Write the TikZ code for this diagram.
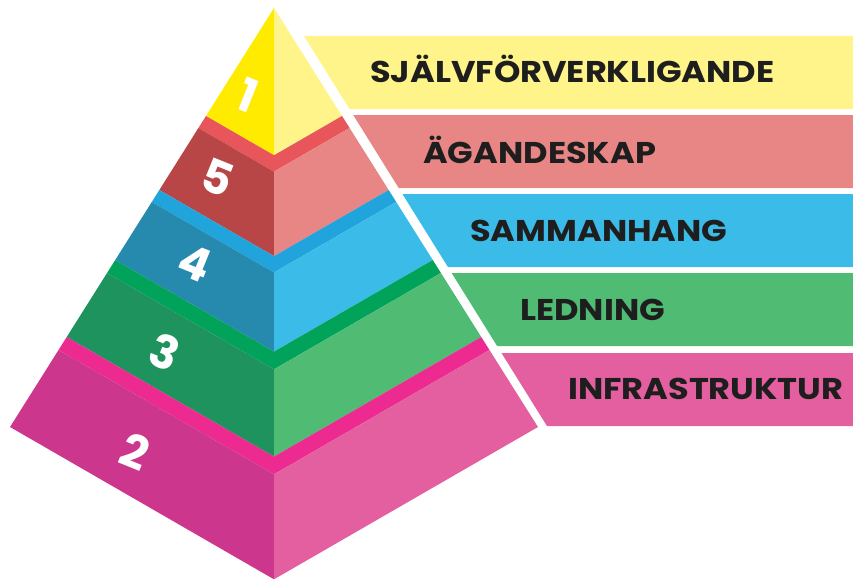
\documentclass[tikz,border=0pt]{standalone}
\usepackage{fontspec}
\setmainfont{Poppins}
% face colours: band / left / right
\definecolor{yelL}{HTML}{FFEB00}
\definecolor{yelR}{HTML}{FFF48A}
\definecolor{redB}{HTML}{E8555A}
\definecolor{redL}{HTML}{B94646}
\definecolor{redR}{HTML}{E88686}
\definecolor{bluB}{HTML}{21A3DC}
\definecolor{bluL}{HTML}{258AAD}
\definecolor{bluR}{HTML}{3BBCE8}
\definecolor{grnB}{HTML}{00A359}
\definecolor{grnL}{HTML}{1F935E}
\definecolor{grnR}{HTML}{4FBB73}
\definecolor{pnkB}{HTML}{EC2A90}
\definecolor{pnkL}{HTML}{CC368D}
\definecolor{pnkR}{HTML}{E35F9F}
\definecolor{ink}{HTML}{1E1E1E}
\tikzset{
    digit/.style={white, inner sep=0pt, rotate=-22,
        font=\fontsize{46}{46}\selectfont\bfseries},
    labeltext/.style={ink, inner sep=0pt, anchor=base west, xscale=1.12,
        font=\fontsize{30}{30}\selectfont\bfseries}
}
\begin{document}
\begin{tikzpicture}[x=1pt,y=-1pt]
    \def\cx{274}      % front ridge
    \def\ty{8}        % apex height
    \def\slope{0.63}  % half width per unit of height
    \def\dep{0.577}   % depth of the front corner per half width
    \useasboundingbox (0,0) rectangle (853,578);
    % labels behind the pyramid
    \foreach \yt/\yb/\col in {36/109/yelR,115/188/redR,194/267/bluR,273/346/grnR,353/426/pnkR}{%
        \fill[\col] ({304+0.623*(\yt-36)},\yt) -- (853,\yt) -- (853,\yb)
            -- ({304+0.623*(\yb-36)},\yb) -- cycle;
    }
    \node[labeltext] (lab1) at (370,82) {SJÄLVFÖRVERKLIGANDE};
    \node[labeltext] (lab2) at (423,163) {ÄGANDESKAP};
    \node[labeltext] (lab3) at (470,241) {SAMMANHANG};
    \node[labeltext] (lab4) at (520,320) {LEDNING};
    \node[labeltext] (lab5) at (568,399) {INFRASTRUKTUR};
    % top piece
    \coordinate (apex) at (\cx,\ty);
    \fill[yelL] (apex) -- ({\cx-\slope*108},116) -- ({\cx},{116+\dep*\slope*108}) -- cycle;
    \fill[yelR] (apex) -- ({\cx+\slope*108},116) -- ({\cx},{116+\dep*\slope*108}) -- cycle;
    % tiers: band top / face top / face bottom
    \foreach \ha/\hb/\hc/\cb/\cl/\cr in {116/128/190/redB/redL/redR,190/202/260/bluB/bluL/bluR,
        260/273/337/grnB/grnL/grnR,337/350/427/pnkB/pnkL/pnkR}{%
        \pgfmathsetmacro\wa{\slope*(\ha-\ty)}
        \pgfmathsetmacro\wb{\slope*(\hb-\ty)}
        \pgfmathsetmacro\wc{\slope*(\hc-\ty)}
        \fill[\cb] ({\cx-\wa},\ha) -- ({\cx},{\ha+\dep*\wa}) -- ({\cx+\wa},\ha) -- ({\cx+\wb},\hb)
            -- ({\cx},{\hb+\dep*\wb}) -- ({\cx-\wb},\hb) -- cycle;
        \fill[\cl] ({\cx-\wb},\hb) -- ({\cx},{\hb+\dep*\wb}) -- ({\cx},{\hc+\dep*\wc}) -- ({\cx-\wc},\hc) -- cycle;
        \fill[\cr] ({\cx+\wb},\hb) -- ({\cx},{\hb+\dep*\wb}) -- ({\cx},{\hc+\dep*\wc}) -- ({\cx+\wc},\hc) -- cycle;
    }
    % numbers on the left faces
    \foreach \px/\py/\n in {248/95/1,218/178/5,195/263/4,165/352/3,135/452/2}{%
        \node[digit] (num\n) at (\px,\py) {\n};
    }
\end{tikzpicture}
\end{document}
